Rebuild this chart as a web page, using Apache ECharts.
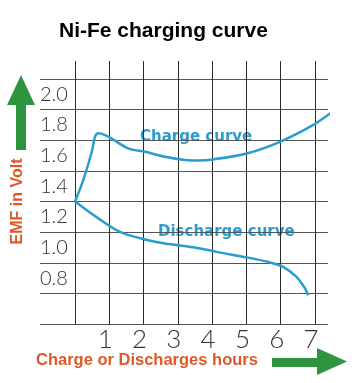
<!DOCTYPE html>
<html><head><meta charset="utf-8">
<script src="https://cdn.jsdelivr.net/npm/echarts@6/dist/echarts.min.js"></script>
<style>html,body{margin:0;padding:0;background:#fff}#c{width:357px;height:383px}</style>
</head><body><div id="c"></div>
<script>
const hourTicks = [1, 2, 3, 4, 5, 6, 7];
const voltTicks = [0.8, 1.0, 1.2, 1.4, 1.6, 1.8, 2.0];
const chargeHours = [0, 0.24, 0.49, 0.58, 0.68, 0.97, 1.55, 2.04, 2.62, 3.21, 3.6, 4.03, 5.01, 5.98, 6.95, 7.55];
const chargeVolts = [1.30, 1.44, 1.625, 1.72, 1.745, 1.723, 1.647, 1.625, 1.592, 1.571, 1.568, 1.575, 1.614, 1.69, 1.80, 1.893];
const dischargeHours = [0, 0.68, 1.31, 2.04, 2.62, 3.5, 4.13, 5.01, 5.69, 6.07, 6.46, 6.71, 6.8];
const dischargeVolts = [1.30, 1.19, 1.102, 1.052, 1.026, 1.0, 0.971, 0.935, 0.902, 0.873, 0.808, 0.732, 0.688];

const blue = '#2a9dd0';
const orange = '#e0582a';
const green = '#2f9440';
const chart = echarts.init(document.getElementById('c'));
const pair = (xs, ys) => xs.map((x, i) => [x, ys[i]]);
chart.setOption({
  animation: false,
  title: {
    text: 'Ni-Fe charging curve', left: 54, top: 16,
    textStyle: { fontFamily: 'Liberation Sans', fontWeight: 900, fontSize: 21, color: '#000' }
  },
  grid: [
    { left: 40, right: 29, top: 79, bottom: 59 },
    { left: 75, right: 42, top: 61, bottom: 59 }
  ],
  xAxis: [
    { gridIndex: 0, type: 'value', min: -1.021, max: 7.379, show: false },
    { gridIndex: 1, type: 'value', min: 0, max: 7, interval: 1,
      axisLine: { show: false }, axisTick: { show: false },
      splitLine: { show: true, lineStyle: { color: '#2a2a2a', width: 1 } },
      axisLabel: { customValues: hourTicks, fontFamily: 'Lato', fontWeight: 300, fontSize: 26, color: '#333', margin: 3, padding: [0, 8, 0, 0] }
    }
  ],
  yAxis: [
    { gridIndex: 0, type: 'value', min: 0.5, max: 2.1, interval: 0.2,
      axisLine: { show: false }, axisTick: { show: false },
      splitLine: { show: true, lineStyle: { color: '#555', width: 1 } },
      axisLabel: { customValues: voltTicks, inside: true, margin: 0, fontFamily: 'Lato', fontWeight: 300, fontSize: 20, color: '#333',
        formatter: v => v.toFixed(1) },
      name: 'EMF in Volt', nameLocation: 'middle', nameGap: 14, nameRotate: 90,
      nameTextStyle: { color: orange, fontFamily: 'Liberation Sans', fontWeight: 'bold', fontSize: 16 }
    },
    { gridIndex: 1, type: 'value', min: 0, max: 1, show: false }
  ],
  graphic: [
    { type: 'polygon', shape: { points: [[21, 75], [35, 105], [26, 105], [26, 150], [16, 150], [16, 105], [7, 105]] }, style: { fill: green } },
    { type: 'polygon', shape: { points: [[272, 358], [317, 358], [317, 348], [347, 361.5], [317, 375], [317, 367], [272, 367]] }, style: { fill: green } },
    { type: 'text', left: 36, top: 352, style: { text: 'Charge or Discharges hours', fill: orange, font: 'bold 16.5px "Liberation Sans"' } },
    { type: 'text', left: 140, top: 130, style: { text: 'Charge curve', fill: blue, font: 'bold 15px "DejaVu Sans"' } },
    { type: 'text', left: 158, top: 225, style: { text: 'Discharge curve', fill: blue, font: 'bold 15px "DejaVu Sans"' } }
  ],
  series: [
    { name: 'Charge curve', type: 'line', xAxisIndex: 0, yAxisIndex: 0, data: pair(chargeHours, chargeVolts),
      smooth: 0.3, showSymbol: false, clip: false, lineStyle: { color: blue, width: 2.5 } },
    { name: 'Discharge curve', type: 'line', xAxisIndex: 0, yAxisIndex: 0, data: pair(dischargeHours, dischargeVolts),
      smooth: 0.3, showSymbol: false, clip: false, lineStyle: { color: blue, width: 2.5 } }
  ]
});
</script></body></html>
